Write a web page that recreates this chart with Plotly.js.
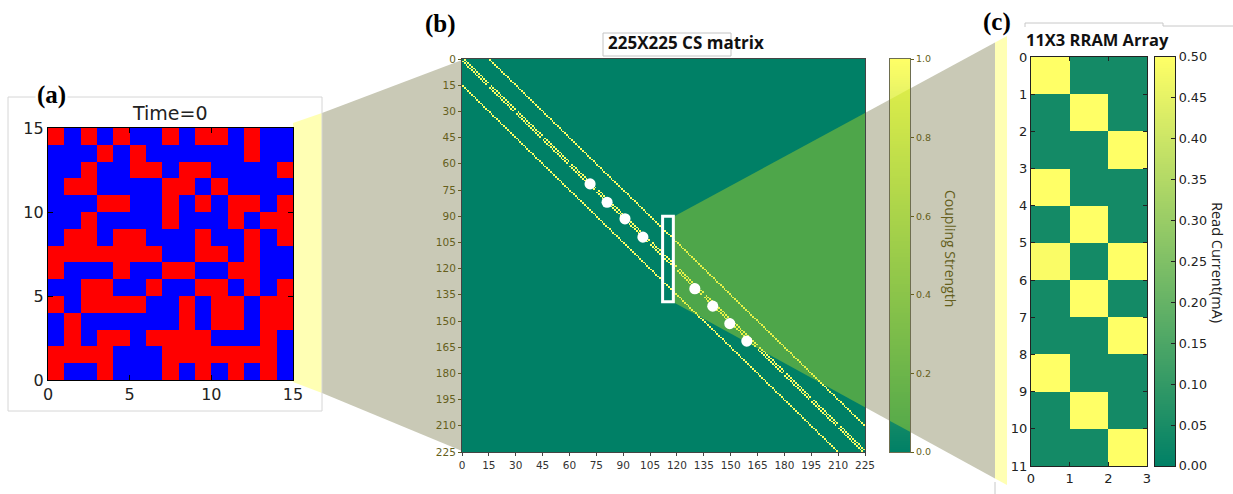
<!DOCTYPE html>
<html>
<head>
<meta charset="utf-8">
<script src="https://cdn.plot.ly/plotly-3.0.1.min.js"></script>
<style>
  html, body { margin: 0; padding: 0; background: #ffffff; }
  #fig { width: 1233px; height: 494px; }
</style>
</head>
<body>
<div id="fig"></div>
<script>
// ---------------- data ----------------
// (a) Ising lattice at time 0, rows from y = 0 (bottom) upwards; 1 = spin up (red), 0 = spin down (blue)
const spins = [
  [1,0,0,1,0,0,0,1,0,1,0,1,0,1,0],
  [1,1,1,1,0,0,0,1,1,1,1,1,1,1,0],
  [0,1,0,1,1,0,1,1,1,1,0,0,0,1,0],
  [0,1,0,0,0,0,0,0,1,0,1,1,0,1,1],
  [1,0,1,1,1,1,0,0,1,0,1,1,0,1,1],
  [0,0,1,1,0,0,1,0,0,1,1,0,1,0,1],
  [1,0,0,0,1,0,0,1,1,0,0,1,1,0,0],
  [1,1,1,1,1,1,1,0,0,1,1,0,1,0,0],
  [0,1,1,0,1,1,0,0,0,1,0,0,1,0,1],
  [0,0,1,0,0,0,0,1,0,0,0,1,0,1,1],
  [0,0,0,1,1,0,0,1,0,1,0,1,1,0,1],
  [0,1,1,0,0,0,0,1,1,0,1,0,0,0,0],
  [0,0,1,0,0,1,1,0,1,1,0,0,0,0,1],
  [0,0,0,1,0,1,0,0,0,0,0,0,1,0,0],
  [1,0,1,0,1,0,0,1,0,1,1,0,1,0,0]
];
const latticeTicks = [0, 5, 10, 15];

// (b) coupling-strength matrix of the 15x15 lattice (nearest neighbours)
const latticeSide = 15;
const couplingStrength = 1.0;
const csTicks = [0,15,30,45,60,75,90,105,120,135,150,165,180,195,210,225];
const dotX = [71.5, 81, 91, 101, 130, 140, 149.5, 159];
const dotY = [71.5, 82, 91.5, 102, 131.5, 141.5, 151.5, 161.5];
const selX = [112, 118];
const selY = [90, 139];
const csBarTicks = [0, 0.2, 0.4, 0.6, 0.8, 1.0];

// (c) 11x3 RRAM array read currents (mA), row 0 at the top
const rram = [
  [0.50, 0.04, 0.04],
  [0.04, 0.50, 0.04],
  [0.04, 0.04, 0.50],
  [0.50, 0.04, 0.04],
  [0.04, 0.50, 0.04],
  [0.49, 0.04, 0.50],
  [0.04, 0.50, 0.04],
  [0.04, 0.04, 0.50],
  [0.50, 0.04, 0.04],
  [0.04, 0.50, 0.04],
  [0.04, 0.04, 0.50]
];
const rramRowTicks = [0,1,2,3,4,5,6,7,8,9,10,11];
const rramColTicks = [0,1,2,3];
const currentTicks = [0,0.05,0.10,0.15,0.20,0.25,0.30,0.35,0.40,0.45,0.50];

// ---------------- helpers ----------------
const W = 1233, H = 494;
const px = x => x / W;
const py = y => 1 - y / H;
const summer = [[0, 'rgb(0,128,102)'], [1, 'rgb(255,255,102)']];
const olive = '#655f1c';

// build the coupling matrix from lattice neighbours
const N = latticeSide * latticeSide;
const cs = [];
for (let i = 0; i < N; i++) cs.push(new Array(N).fill(0));
for (let i = 0; i < N; i++) {
  if (i % latticeSide < latticeSide - 1) { cs[i][i + 1] = couplingStrength; cs[i + 1][i] = couplingStrength; }
  if (i + latticeSide < N) { cs[i][i + latticeSide] = couplingStrength; cs[i + latticeSide][i] = couplingStrength; }
}
const centers = n => Array.from({length: n}, (_, k) => k + 0.5);

// gradient strips used as colour bars
function gradient(lo, hi, steps) {
  const v = [];
  for (let k = 0; k <= steps; k++) v.push(lo + (hi - lo) * k / steps);
  return v;
}
const gradB = gradient(0, 1, 200);
const gradC = gradient(0, 0.5, 200);

const traces = [
  { type: 'heatmap', x: centers(15), y: centers(15), z: spins, xaxis: 'x', yaxis: 'y',
    zmin: 0, zmax: 1, showscale: false, hoverinfo: 'skip',
    colorscale: [[0, '#0000ff'], [0.5, '#0000ff'], [0.5, '#ff0000'], [1, '#ff0000']] },
  { type: 'heatmap', x: centers(N), y: centers(N), z: cs, xaxis: 'x2', yaxis: 'y2',
    zmin: 0, zmax: 1, showscale: false, hoverinfo: 'skip', colorscale: summer },
  { type: 'heatmap', x: [0.5], y: gradB, z: gradB.map(v => [v]), xaxis: 'x4', yaxis: 'y4',
    zmin: 0, zmax: 1, showscale: false, hoverinfo: 'skip', colorscale: summer },
  { type: 'heatmap', x: centers(3), y: centers(11), z: rram, xaxis: 'x3', yaxis: 'y3',
    zmin: 0, zmax: 0.5, showscale: false, hoverinfo: 'skip', colorscale: summer },
  { type: 'heatmap', x: [0.5], y: gradC, z: gradC.map(v => [v]), xaxis: 'x5', yaxis: 'y5',
    zmin: 0, zmax: 0.5, showscale: false, hoverinfo: 'skip', colorscale: summer }
];

// edges of the zoom wedge from the selected block in (b) towards (c)
const topY = x => 217 + (x - 673) * (36 - 217) / (1007 - 673);
const botY = x => 302 + (x - 673) * (485 - 302) / (1007 - 673);
function poly(pts) {
  return 'M ' + pts.map(p => px(p[0]).toFixed(5) + ',' + py(p[1]).toFixed(5)).join(' L ') + ' Z';
}
const gray = 'rgb(201,201,182)';
const paleYellow = 'rgb(255,255,180)';
const overlay = 'rgba(195,223,32,0.4)';

const shapes = [
  // wedge from (a) to (b)
  { type: 'path', xref: 'paper', yref: 'paper', layer: 'below', fillcolor: gray, line: {width: 0},
    path: poly([[322,113],[462,60],[462,451],[322,393]]) },
  { type: 'path', xref: 'paper', yref: 'paper', layer: 'below', fillcolor: paleYellow, line: {width: 0},
    path: poly([[293,123],[322,113],[322,393],[293,382]]) },
  // frame around (a)
  { type: 'rect', xref: 'paper', yref: 'paper', layer: 'below', x0: px(8), x1: px(322), y0: py(411), y1: py(97),
    line: {color: '#d6d6d6', width: 1} },
  // wedge from (b) to (c)
  { type: 'path', xref: 'paper', yref: 'paper', layer: 'below', fillcolor: gray, line: {width: 0},
    path: poly([[865,topY(865)],[995,topY(995)],[995,botY(995)],[865,botY(865)]]) },
  { type: 'path', xref: 'paper', yref: 'paper', layer: 'below', fillcolor: paleYellow, line: {width: 0},
    path: poly([[995,topY(995)],[1007,topY(1007)],[1007,botY(1007)],[995,botY(995)]]) },
  // translucent wedge over the matrix and its colour bar
  { type: 'path', xref: 'paper', yref: 'paper', layer: 'above', fillcolor: overlay, line: {width: 0},
    path: poly([[673,217],[865,topY(865)],[865,botY(865)],[673,302]]) },
  { type: 'path', xref: 'paper', yref: 'paper', layer: 'above', fillcolor: overlay, line: {width: 0},
    path: poly([[890,topY(890)],[910,topY(910)],[910,botY(910)],[890,botY(890)]]) },
  // selected block in the matrix
  { type: 'rect', xref: 'x2', yref: 'y2', layer: 'above', x0: selX[0], x1: selX[1], y0: selY[0], y1: selY[1],
    line: {color: '#ffffff', width: 3} },
  // title box of (b)
  { type: 'rect', xref: 'paper', yref: 'paper', layer: 'below', x0: px(603), x1: px(731), y0: py(56), y1: py(33),
    line: {color: '#c4c4c4', width: 1} },
  // frame pieces around (c)
  { type: 'path', xref: 'paper', yref: 'paper', layer: 'below', line: {color: '#c8c8c8', width: 1},
    path: 'M ' + px(1025) + ',' + py(27) + ' L ' + px(1025) + ',' + py(23) + ' L ' + px(1163) + ',' + py(23) + ' L ' + px(1163) + ',' + py(26) + ' L ' + px(1233) + ',' + py(26) },
  { type: 'line', xref: 'paper', yref: 'paper', layer: 'below', x0: px(995), x1: px(995), y0: py(482), y1: py(494),
    line: {color: '#c8c8c8', width: 1} }
];
// ellipsis dots along the diagonal
dotX.forEach((x, k) => {
  shapes.push({ type: 'circle', xref: 'x2', yref: 'y2', layer: 'above',
    x0: x - 3.1, x1: x + 3.1, y0: dotY[k] - 3.2, y1: dotY[k] + 3.2,
    fillcolor: '#ffffff', line: {color: '#ffffff', width: 0} });
});

const mplFont = (size, color) => ({family: 'DejaVu Sans', size: size, color: color || '#222222'});
const baseAxis = {showgrid: false, zeroline: false, showline: true, fixedrange: true};

const layout = {
  width: W, height: H,
  margin: {l: 0, r: 0, t: 0, b: 0},
  paper_bgcolor: '#ffffff', plot_bgcolor: 'rgba(0,0,0,0)',
  showlegend: false,
  xaxis: Object.assign({}, baseAxis, { domain: [px(48), px(293)], anchor: 'y', range: [0, 15],
    tickmode: 'array', tickvals: latticeTicks, ticks: 'inside', ticklen: 5, mirror: 'allticks',
    linecolor: '#000', linewidth: 1.2, tickcolor: '#000', tickfont: mplFont(16) }),
  yaxis: Object.assign({}, baseAxis, { domain: [py(380), py(128)], anchor: 'x', range: [0, 15],
    tickmode: 'array', tickvals: latticeTicks, ticks: 'inside', ticklen: 5, mirror: 'allticks',
    linecolor: '#000', linewidth: 1.2, tickcolor: '#000', tickfont: mplFont(16) }),
  xaxis2: Object.assign({}, baseAxis, { domain: [px(462), px(865)], anchor: 'y2', range: [0, 225],
    tickmode: 'array', tickvals: csTicks, ticks: 'outside', ticklen: 3, mirror: true,
    linecolor: '#444', linewidth: 1, tickcolor: '#444', tickfont: mplFont(10.5, '#333') }),
  yaxis2: Object.assign({}, baseAxis, { domain: [py(452), py(59)], anchor: 'x2', range: [225, 0],
    tickmode: 'array', tickvals: csTicks, ticks: 'outside', ticklen: 3, mirror: true,
    linecolor: '#444', linewidth: 1, tickcolor: olive, tickfont: mplFont(10.5, olive) }),
  xaxis4: Object.assign({}, baseAxis, { domain: [px(890), px(910)], anchor: 'y4', range: [0, 1],
    showticklabels: false, ticks: '', mirror: true, linecolor: '#6e6e50', linewidth: 1 }),
  yaxis4: Object.assign({}, baseAxis, { domain: [py(452), py(59)], anchor: 'x4', range: [0, 1], side: 'right',
    tickmode: 'array', tickvals: csBarTicks, ticktext: csBarTicks.map(v => v.toFixed(1)),
    ticks: 'outside', ticklen: 3, mirror: true, linecolor: '#6e6e50', linewidth: 1,
    tickcolor: olive, tickfont: mplFont(9.5, olive) }),
  xaxis3: Object.assign({}, baseAxis, { domain: [px(1031), px(1147)], anchor: 'y3', range: [0, 3],
    tickmode: 'array', tickvals: rramColTicks, ticks: 'inside', ticklen: 4, mirror: 'allticks',
    linecolor: '#222', linewidth: 1.2, tickcolor: '#222', tickfont: mplFont(13) }),
  yaxis3: Object.assign({}, baseAxis, { domain: [py(466), py(57)], anchor: 'x3', range: [11, 0],
    tickmode: 'array', tickvals: rramRowTicks, ticks: 'inside', ticklen: 4, mirror: 'allticks',
    linecolor: '#222', linewidth: 1.2, tickcolor: '#222', tickfont: mplFont(13) }),
  xaxis5: Object.assign({}, baseAxis, { domain: [px(1155), px(1175)], anchor: 'y5', range: [0, 1],
    showticklabels: false, ticks: '', mirror: true, linecolor: '#222', linewidth: 1.2 }),
  yaxis5: Object.assign({}, baseAxis, { domain: [py(466), py(57)], anchor: 'x5', range: [0, 0.5], side: 'right',
    tickmode: 'array', tickvals: currentTicks, ticktext: currentTicks.map(v => v.toFixed(2)),
    ticks: 'inside', ticklen: 4, mirror: true, linecolor: '#222', linewidth: 1.2,
    tickcolor: '#222', tickfont: mplFont(12.7) }),
  shapes: shapes,
  annotations: [
    { text: 'Time=0', xref: 'paper', yref: 'paper', x: px(170), y: py(113), showarrow: false,
      xanchor: 'center', yanchor: 'middle', font: mplFont(19) },
    { text: '<b>225X225 CS matrix</b>', xref: 'paper', yref: 'paper', x: px(686), y: py(43), showarrow: false,
      xanchor: 'center', yanchor: 'middle', font: {family: 'Open Sans', size: 17, color: '#111'} },
    { text: 'Coupling Strength', xref: 'paper', yref: 'paper', x: px(951), y: py(249), showarrow: false,
      textangle: 90, xanchor: 'center', yanchor: 'middle', font: {family: 'Open Sans', size: 14, color: olive} },
    { text: '<b>11X3 RRAM Array</b>', xref: 'paper', yref: 'paper', x: px(1097), y: py(40), showarrow: false,
      xanchor: 'center', yanchor: 'middle', font: {family: 'Open Sans', size: 16.5, color: '#111'} },
    { text: 'Read Current(mA)', xref: 'paper', yref: 'paper', x: px(1218), y: py(262), showarrow: false,
      textangle: 90, xanchor: 'center', yanchor: 'middle', font: {family: 'Open Sans', size: 14.5, color: '#222'} },
    { text: '<b>(a)</b>', xref: 'paper', yref: 'paper', x: px(51), y: py(95), showarrow: false, bgcolor: '#ffffff',
      xanchor: 'center', yanchor: 'middle', font: {family: 'Liberation Serif', size: 25, color: '#000'} },
    { text: '<b>(b)</b>', xref: 'paper', yref: 'paper', x: px(440), y: py(24), showarrow: false,
      xanchor: 'center', yanchor: 'middle', font: {family: 'Liberation Serif', size: 25, color: '#000'} },
    { text: '<b>(c)</b>', xref: 'paper', yref: 'paper', x: px(997), y: py(22), showarrow: false,
      xanchor: 'center', yanchor: 'middle', font: {family: 'Liberation Serif', size: 25, color: '#000'} }
  ]
};

Plotly.newPlot('fig', traces, layout, {staticPlot: true, displayModeBar: false});
</script>
</body>
</html>
